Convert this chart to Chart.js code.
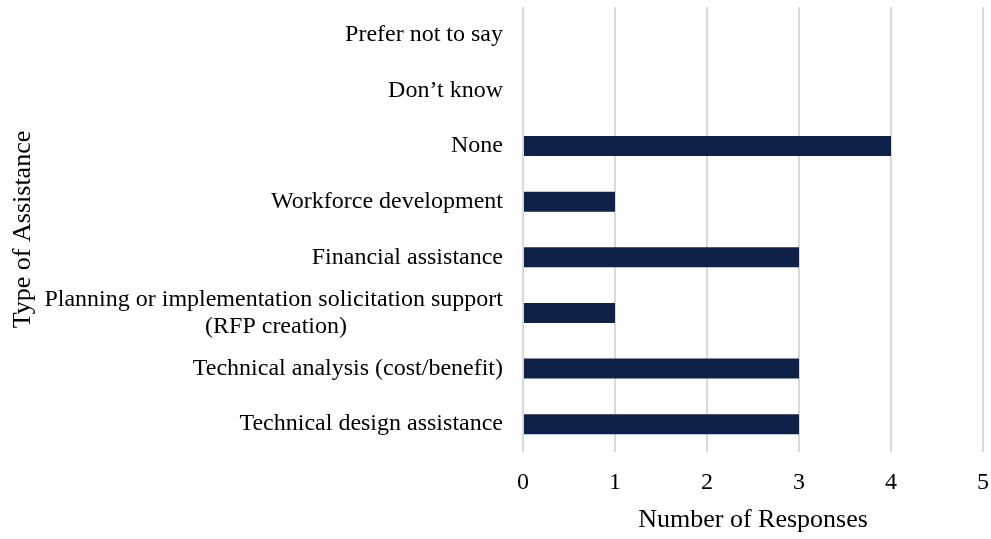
<!DOCTYPE html>
<html>
<head>
<meta charset="utf-8">
<script src="https://cdn.jsdelivr.net/npm/chart.js@4"></script>
<style>
  html, body { margin: 0; padding: 0; background: #fff; }
  #wrap { width: 991px; height: 539px; }
</style>
</head>
<body>
<div id="wrap"><canvas id="assist"></canvas></div>
<script>
// categories, top to bottom
const categories = [
  'Prefer not to say',
  'Don\u2019t know',
  'None',
  'Workforce development',
  'Financial assistance',
  ['Planning or implementation solicitation support', '(RFP creation)'],
  'Technical analysis (cost/benefit)',
  'Technical design assistance'
];
const responses = [0, 0, 4, 1, 3, 1, 3, 3];
const xTicks = [0, 1, 2, 3, 4, 5];

const FONT = '"Liberation Serif", "Times New Roman", serif';
const TICK_SIZE = 24;

// right-aligned tick labels: pad short lines so each line reads centred under the longest
const meas = document.createElement('canvas').getContext('2d');
meas.font = TICK_SIZE + 'px ' + FONT;
const spaceW = meas.measureText(' ').width;
function centreLines(lines) {
  if (!Array.isArray(lines)) return lines;
  const widest = Math.max(...lines.map(l => meas.measureText(l).width));
  return lines.map(l => {
    const n = Math.round((widest - meas.measureText(l).width) / 2 / spaceW);
    return l + ' '.repeat(n);
  });
}

let ctx = document.getElementById('assist');
let config = {
  type: 'bar',
  data: {
    labels: categories.map(centreLines),
    datasets: [{
      data: responses,
      backgroundColor: '#102149',
      borderWidth: 0,
      categoryPercentage: 1,
      barPercentage: 0.36
    }]
  },
  options: {
    indexAxis: 'y',
    responsive: true,
    maintainAspectRatio: false,
    animation: false,
    layout: { padding: { left: 6, right: 8, top: 7, bottom: 3 } },
    plugins: {
      legend: { display: false },
      tooltip: { enabled: false }
    },
    scales: {
      x: {
        min: 0,
        max: 5,
        afterBuildTicks: (s) => { s.ticks = xTicks.map(v => ({ value: v })); },
        afterFit: (s) => { s.height = 84; s.paddingLeft = 0; s.paddingRight = 0; },
        grid: { color: '#d9d9d9', lineWidth: 2, drawTicks: false },
        border: { display: false },
        ticks: { color: '#000', padding: 16, font: { family: FONT, size: TICK_SIZE } },
        title: {
          display: true,
          text: 'Number of Responses',
          color: '#000',
          font: { family: FONT, size: 26 },
          padding: { top: 6, bottom: 0 }
        }
      },
      y: {
        // wide label column: let the axis take more than half the canvas
        afterFit: (s) => { s.width = 517; s.paddingTop = 0; s.paddingBottom = 0; },
        grid: { display: false, drawTicks: false },
        border: { display: false },
        ticks: { color: '#000', padding: 20, autoSkip: false, font: { family: FONT, size: TICK_SIZE, lineHeight: 1.12 } },
        title: {
          display: true,
          text: 'Type of Assistance',
          color: '#000',
          font: { family: FONT, size: 26 },
          padding: { top: 2, bottom: 2 }
        }
      }
    }
  }
};
new Chart(ctx, config);
</script>
</body>
</html>
